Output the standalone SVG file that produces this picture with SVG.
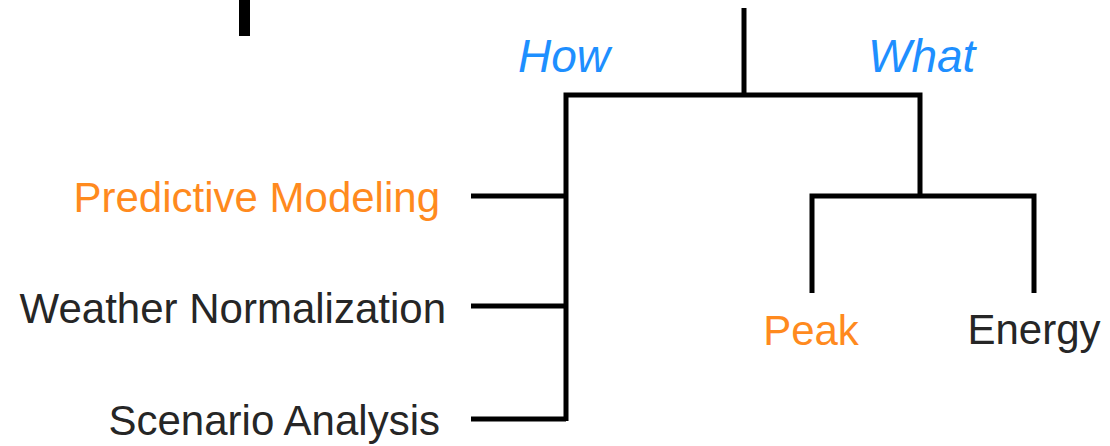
<svg xmlns="http://www.w3.org/2000/svg" width="1110" height="446" viewBox="0 0 1110 446">
  <style>
    .lbl { font-family: "Liberation Sans", Arial, sans-serif; font-size: 42px; }
    .orange { fill: #FF8A1E; }
    .dark { fill: #262626; }
    .blue { fill: #1E8FFF; font-style: italic; font-size: 46px; }
    .ln { stroke: #000; stroke-width: 5; fill: none; stroke-linecap: butt; stroke-linejoin: miter; }
  </style>
  <rect width="1110" height="446" fill="#fff"/>
  <g id="connectors">
    <rect x="239" y="0" width="11" height="36" fill="#000"/>
    <line class="ln" x1="744" y1="8" x2="744" y2="95"/>
    <polyline class="ln" points="566,421 566,95 920,95 920,196"/>
    <line class="ln" x1="471" y1="196" x2="566" y2="196"/>
    <line class="ln" x1="471" y1="306" x2="566" y2="306"/>
    <line class="ln" x1="471" y1="419" x2="566" y2="419"/>
    <polyline class="ln" points="812,293 812,196 1034,196 1034,293"/>
  </g>
  <g id="node-how"><text class="lbl blue" x="518" y="72">How</text></g>
  <g id="node-what"><text class="lbl blue" x="868" y="72">What</text></g>
  <g id="node-predictive"><text class="lbl orange" x="440" y="212" text-anchor="end">Predictive Modeling</text></g>
  <g id="node-weather"><text class="lbl dark" x="446" y="323" text-anchor="end">Weather Normalization</text></g>
  <g id="node-scenario"><text class="lbl dark" x="440" y="435" text-anchor="end">Scenario Analysis</text></g>
  <g id="node-peak"><text class="lbl orange" x="811" y="345" text-anchor="middle">Peak</text></g>
  <g id="node-energy"><text class="lbl dark" x="1034" y="344" text-anchor="middle">Energy</text></g>
</svg>
